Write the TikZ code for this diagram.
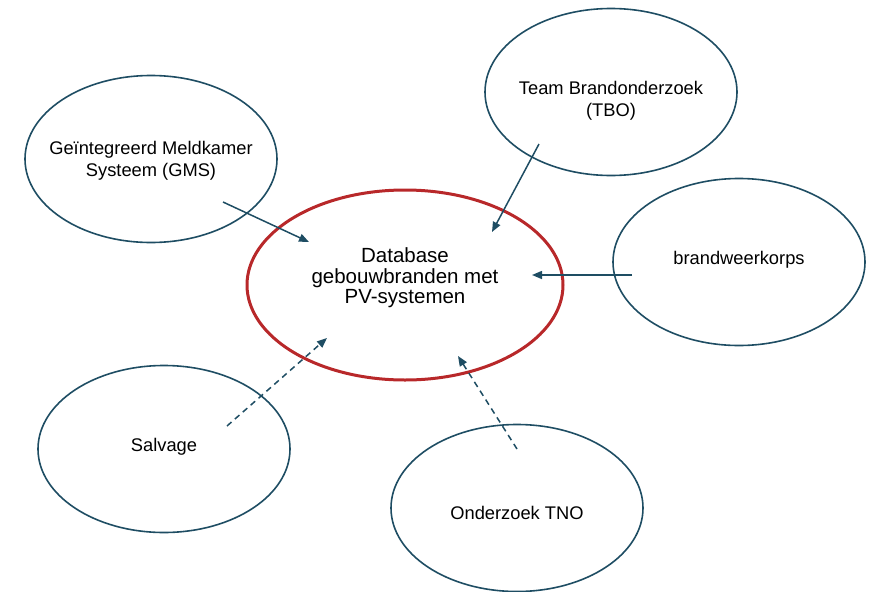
\documentclass[tikz,border=0pt]{standalone}
\usepackage{fontspec}
\setmainfont{Liberation Sans}
\usetikzlibrary{arrows.meta,calc,shapes.geometric}
\definecolor{Petrol}{HTML}{1E4D63}
\definecolor{FireRed}{HTML}{B8282A}

\begin{document}
\begin{tikzpicture}[x=1pt,y=-1pt,
    source/.style={ellipse,draw=Petrol,line width=1.6pt,
      minimum width=252pt,minimum height=167pt,inner sep=0pt},
    txt/.style={font=\fontsize{18.3}{22}\selectfont,align=center},
    flow/.style={draw=Petrol,line width=1.5pt,
      -{Triangle[length=10pt,width=8pt]}},
    guess/.style={flow,dash pattern=on 6pt off 4.5pt}]
    \useasboundingbox (0,0) rectangle (876,592);
    % central database
    \node[ellipse,draw=FireRed,line width=3pt,minimum width=316pt,
      minimum height=190pt,inner sep=0pt] (db) at (405,285) {};
    \node[txt,font=\fontsize{20.5}{20.5}\selectfont] (db-txt)
      at (405,278) {Database\\gebouwbranden met\\PV-systemen};
    % sources
    \foreach \nm/\x/\y/\dy/\lab in {
      gms/151/159/2/{Geïntegreerd Meldkamer\\Systeem (GMS)},
      tbo/611/92/9/{Team Brandonderzoek\\(TBO)},
      korps/739/262/-2/{brandweerkorps},
      salv/164/449/-2/{Salvage},
      tno/517/508/5/{Onderzoek TNO}}
      {
        \node[source] (\nm) at (\x,\y) {};
        \node[txt] (\nm-txt) at (\x,\y+\dy) {\lab};
      }
    \draw[flow] ($(gms.center)+(72,43)$) -- ($(db.center)+(-96,-43)$);
    \draw[flow] ($(tbo.center)+(-72,52)$) -- ($(db.center)+(87,-53)$);
    \draw[flow] ($(korps.center)+(-107,13)$) -- ($(db.center)+(127,-10)$);
    \draw[guess] ($(salv.center)+(63,-23)$) -- ($(db.center)+(-78,53)$);
    \draw[guess] ($(tno.center)+(0,-59)$) -- ($(db.center)+(53,71)$);
  \end{tikzpicture}
\end{document}
